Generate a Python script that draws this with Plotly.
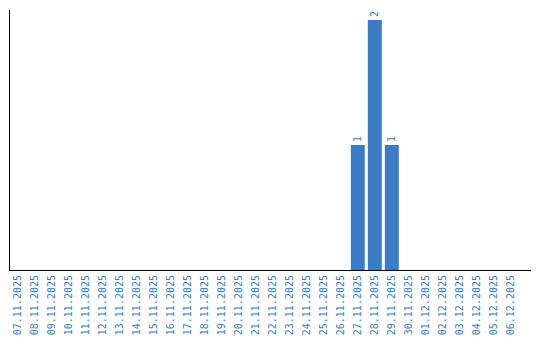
import plotly.graph_objects as go
from datetime import date, timedelta

start = date(2025, 11, 7)
dates = [(start + timedelta(days=i)).strftime("%d.%m.%Y") for i in range(30)]
counts = {"27.11.2025": 1, "28.11.2025": 2, "29.11.2025": 1}
values = [counts.get(d, 0) for d in dates]
labels = [str(v) if v else "" for v in values]

blue = "#3b7cc4"

fig = go.Figure(go.Bar(
    x=dates, y=values, text=labels, textposition="outside",
    textangle=-90, cliponaxis=False,
    textfont=dict(family="DejaVu Sans Mono", size=10, color=blue),
    marker=dict(color=blue, line=dict(width=0)), width=0.82,
))
fig.update_layout(
    width=540, height=340, plot_bgcolor="white", paper_bgcolor="white",
    margin=dict(l=10, r=9, t=10, b=70, autoexpand=False),
    showlegend=False,
)
fig.update_xaxes(type="category", range=[-0.44, 30.18], tickangle=-90, showgrid=False,
                 showline=True, linecolor="black", linewidth=1, ticks="",
                 tickfont=dict(family="DejaVu Sans Mono", size=10, color=blue))
fig.update_yaxes(range=[0, 2.08], showgrid=False, showline=True, linecolor="black",
                 linewidth=1, showticklabels=False, ticks="", zeroline=False)
fig.write_html("out.html")
